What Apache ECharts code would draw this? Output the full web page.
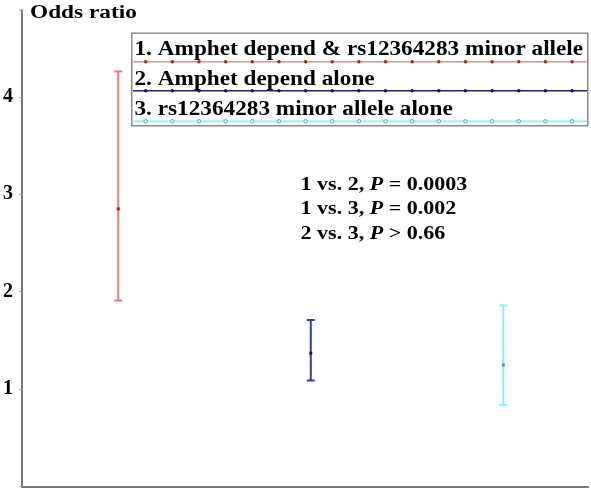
<!DOCTYPE html>
<html>
<head>
<meta charset="utf-8">
<script src="https://cdn.jsdelivr.net/npm/echarts@6/dist/echarts.min.js"></script>
<style>
html,body{margin:0;padding:0;background:#fff;}
#chart{width:591px;height:488px;}
</style>
</head>
<body>
<div id="chart"></div>
<script>
// ---- data ----
var groupLabels = [
  "1. Amphet depend & rs12364283 minor allele",
  "2. Amphet depend alone",
  "3. rs12364283 minor allele alone"
];
var groupX = [1, 2, 3];
var oddsRatio = [2.85, 1.37, 1.25];
var lowerCI = [1.91, 1.09, 0.84];
var upperCI = [4.26, 1.71, 1.86];
var yTicks = [1, 2, 3, 4];
var comparisons = [
  ["1 vs. 2, ", "P", " = 0.0003"],
  ["1 vs. 3, ", "P", " = 0.002"],
  ["2 vs. 3, ", "P", " > 0.66"]
];

// ---- styles ----
var barColors = ["#e87a7a", "#3a3aa6", "#86f2f2"];
var dotColors = ["#c01818", "#14146e", "#5a9a9a"];
var legendLineColors = ["#cc9a9a", "#22226e", "#a6f2f2"];
var legendDotColors = ["#cc1010", "#10107a", "#4aa0a0"];
var serif = "'Liberation Serif','Times New Roman',serif";

var chart = echarts.init(document.getElementById('chart'), null, {renderer: 'canvas'});

function errorBarSeries(i) {
  return {
    type: 'custom',
    name: groupLabels[i],
    data: [[groupX[i], lowerCI[i], oddsRatio[i], upperCI[i]]],
    renderItem: function (params, api) {
      var x = api.value(0);
      var pLo = api.coord([x, api.value(1)]);
      var pMid = api.coord([x, api.value(2)]);
      var pHi = api.coord([x, api.value(3)]);
      var cw = 4;
      var st = {stroke: barColors[i], lineWidth: 2};
      return {
        type: 'group',
        children: [
          {type: 'line', shape: {x1: pHi[0], y1: pHi[1], x2: pLo[0], y2: pLo[1]}, style: st},
          {type: 'line', shape: {x1: pHi[0] - cw, y1: pHi[1], x2: pHi[0] + cw, y2: pHi[1]}, style: st},
          {type: 'line', shape: {x1: pLo[0] - cw, y1: pLo[1], x2: pLo[0] + cw, y2: pLo[1]}, style: st},
          {type: 'rect', shape: {x: pMid[0] - 1.5, y: pMid[1] - 1.5, width: 3, height: 3}, style: {fill: dotColors[i]}}
        ]
      };
    }
  };
}

// legend decoration (graphic)
var legendRows = [
  {textY: 50, lineY: 61.7},
  {textY: 79.5, lineY: 90.7},
  {textY: 109.5, lineY: 121.2}
];
var graphics = [];
graphics.push({
  type: 'rect', left: 131, top: 32.5, z: 10,
  shape: {width: 456, height: 92.5},
  style: {fill: '#fff', stroke: '#8a8a8a', lineWidth: 1.5}
});
legendRows.forEach(function (r, i) {
  graphics.push({
    type: 'line', z: 11,
    shape: {x1: 133, y1: r.lineY, x2: 587, y2: r.lineY},
    style: {stroke: legendLineColors[i], lineWidth: i === 2 ? 2 : 1.5}
  });
  for (var k = 0; k < 17; k++) {
    var cx = 145.7 + k * 26.65;
    graphics.push({
      type: 'circle', z: 12,
      shape: {cx: cx, cy: r.lineY, r: i === 2 ? 1.8 : 1.7},
      style: i === 2 ? {fill: '#c8f4f4', stroke: legendDotColors[i], lineWidth: 0.8} : {fill: legendDotColors[i]}
    });
  }
  graphics.push({
    type: 'text', z: 12, x: 134.5, y: r.textY, scaleX: 1.162, scaleY: 1.02,
    style: {
      text: groupLabels[i], fill: '#000',
      font: 'bold 20px ' + serif,
      textVerticalAlign: 'middle', verticalAlign: 'middle'
    }
  });
});
// axis title
graphics.push({
  type: 'text', z: 12, x: 30, y: 13, scaleX: 1.26,
  style: {text: 'Odds ratio', fill: '#000', font: 'bold 18.5px ' + serif, verticalAlign: 'middle', textVerticalAlign: 'middle'}
});
// comparisons annotation
comparisons.forEach(function (c, i) {
  graphics.push({
    type: 'text', z: 12, x: 300.5, y: 185 + i * 24.5, scaleX: 1.16,
    style: {
      text: c[0] + '{i|' + c[1] + '}' + c[2],
      fill: '#000',
      font: 'bold 19px ' + serif,
      verticalAlign: 'middle', textVerticalAlign: 'middle',
      rich: {i: {fontStyle: 'italic', fontWeight: 'bold', fontSize: 19, fontFamily: serif, fill: '#000'}}
    }
  });
});

var option = {
  animation: false,
  backgroundColor: '#fff',
  grid: {left: 22, right: 3, top: 10, bottom: 1.3},
  xAxis: {
    type: 'value', min: 0.5, max: 3.44,
    axisLine: {show: true, onZero: false, lineStyle: {color: '#777', width: 2}},
    axisTick: {show: false}, axisLabel: {show: false}, splitLine: {show: false}
  },
  yAxis: {
    type: 'value', min: 0, max: 4.89, interval: 1,
    axisLine: {show: true, lineStyle: {color: '#777', width: 2}},
    axisTick: {show: true, length: 3, lineStyle: {color: '#aaa', width: 1}},
    axisLabel: {
      show: true, margin: 9, color: '#000', fontFamily: 'Liberation Serif', fontWeight: 700, fontSize: 20,
      formatter: function (v) { return yTicks.indexOf(v) >= 0 ? String(v) : ''; }
    },
    splitLine: {show: false}
  },
  series: [errorBarSeries(0), errorBarSeries(1), errorBarSeries(2)],
  graphic: graphics
};
chart.setOption(option);
</script>
</body>
</html>
